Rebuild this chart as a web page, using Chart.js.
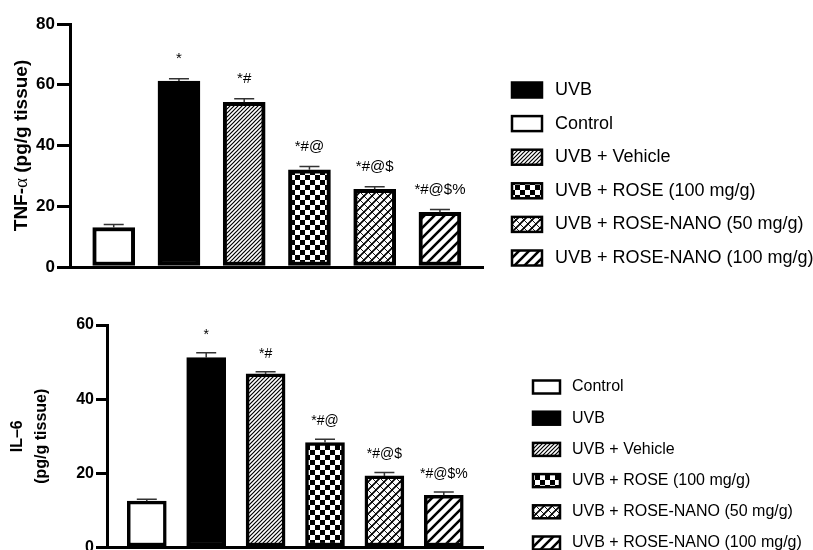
<!DOCTYPE html>
<html>
<head>
<meta charset="utf-8">
<script src="https://cdn.jsdelivr.net/npm/chart.js@4.4.1/dist/chart.umd.min.js"></script>
<style>
  body { margin: 0; background: #fff; }
  canvas { display: block; }
</style>
</head>
<body>
<canvas id="tnfChart" width="813" height="290"></canvas>
<canvas id="il6Chart" width="813" height="260"></canvas>
<script>
const groups = [
  'Control',
  'UVB',
  'UVB + Vehicle',
  'UVB + ROSE (100 mg/g)',
  'UVB + ROSE-NANO (50 mg/g)',
  'UVB + ROSE-NANO (100 mg/g)'
];
const fills = ['white', 'black', 'fineHatch', 'checker', 'weave', 'wideHatch'];
const marks = ['', '*', '*#', '*#@', '*#@$', '*#@$%'];

const tnfMean = [13, 61.2, 54.2, 32, 25.6, 18];
const tnfErr = [1, 0.8, 1.2, 1.1, 0.8, 0.9];
const tnfLegendOrder = [1, 0, 2, 3, 4, 5];

const il6Mean = [12.5, 51.2, 46.8, 28.3, 19.3, 14.1];
const il6Err = [0.5, 1.3, 0.6, 0.9, 0.9, 0.9];
const il6LegendOrder = [0, 1, 2, 3, 4, 5];

const FONT = '"Liberation Sans", Arial, sans-serif';

// little tiles for the bar fills
function hatch(c, s, w, back) {
  c.lineWidth = w;
  c.beginPath();
  if (back) {
    c.moveTo(0, 0); c.lineTo(s, s);
    c.moveTo(-s / 2, s / 2); c.lineTo(s / 2, s * 1.5);
    c.moveTo(s / 2, -s / 2); c.lineTo(s * 1.5, s / 2);
  } else {
    c.moveTo(0, s); c.lineTo(s, 0);
    c.moveTo(-s / 2, s / 2); c.lineTo(s / 2, -s / 2);
    c.moveTo(s / 2, s * 1.5); c.lineTo(s * 1.5, s / 2);
  }
  c.stroke();
}

function makeFill(kind) {
  if (kind === 'white') return '#ffffff';
  if (kind === 'black') return '#000000';
  const size = { fineHatch: 4, checker: 10, weave: 8, wideHatch: 10 }[kind];
  const tile = document.createElement('canvas');
  tile.width = size;
  tile.height = size;
  const c = tile.getContext('2d');
  c.fillStyle = '#fff';
  c.fillRect(0, 0, size, size);
  c.fillStyle = '#000';
  c.strokeStyle = '#000';
  if (kind === 'fineHatch') hatch(c, size, 1.2);
  if (kind === 'checker') {
    c.fillRect(0, 0, size / 2, size / 2);
    c.fillRect(size / 2, size / 2, size / 2, size / 2);
  }
  if (kind === 'weave') {
    hatch(c, size, 1.6);
    hatch(c, size, 0.9, true);
  }
  if (kind === 'wideHatch') hatch(c, size, 2.6);
  return c.createPattern(tile, 'repeat');
}

const fillStyles = fills.map(makeFill);

const errorBars = {
  id: 'errorBars',
  afterDatasetsDraw(chart, args, opts) {
    const ds = chart.data.datasets[0];
    const meta = chart.getDatasetMeta(0);
    const ys = chart.scales.y;
    const ctx = chart.ctx;
    ctx.save();
    ctx.strokeStyle = '#333';
    ctx.lineWidth = 1.5;
    ctx.fillStyle = '#000';
    ctx.font = opts.markSize + 'px ' + FONT;
    ctx.textAlign = 'center';
    ctx.textBaseline = 'middle';
    meta.data.forEach((bar, i) => {
      const v = ds.data[i].y;
      const top = ys.getPixelForValue(v + ds.errors[i]);
      ctx.beginPath();
      ctx.moveTo(bar.x, ys.getPixelForValue(v));
      ctx.lineTo(bar.x, top);
      ctx.moveTo(bar.x - opts.cap, top);
      ctx.lineTo(bar.x + opts.cap, top);
      ctx.stroke();
      if (ds.marks[i]) ctx.fillText(ds.marks[i], bar.x, top - opts.markGap);
    });
    ctx.restore();
  }
};

// y title, drawn by hand so weights and fonts can be mixed
const yTitle = {
  id: 'yTitle',
  afterDraw(chart, args, opts) {
    const ctx = chart.ctx;
    const area = chart.chartArea;
    const cy = (area.top + area.bottom) / 2;
    ctx.save();
    ctx.fillStyle = '#000';
    ctx.textBaseline = 'middle';
    opts.lines.forEach((parts, li) => {
      let total = 0;
      parts.forEach(p => { ctx.font = p.font; total += ctx.measureText(p.text).width; });
      ctx.save();
      ctx.translate(opts.x[li], cy);
      ctx.rotate(-Math.PI / 2);
      let pos = -total / 2;
      ctx.textAlign = 'left';
      parts.forEach(p => {
        ctx.font = p.font;
        ctx.fillText(p.text, pos, 0);
        pos += ctx.measureText(p.text).width;
      });
      ctx.restore();
    });
    ctx.restore();
  }
};

const sideLegend = {
  id: 'sideLegend',
  afterDraw(chart, args, opts) {
    const ctx = chart.ctx;
    const ds = chart.data.datasets[0];
    ctx.save();
    ctx.font = opts.size + 'px ' + FONT;
    ctx.textBaseline = 'middle';
    ctx.textAlign = 'left';
    opts.order.forEach((idx, row) => {
      const cy = opts.y + row * opts.gap;
      ctx.fillStyle = ds.backgroundColor[idx];
      ctx.fillRect(opts.x, cy - opts.h / 2, opts.w, opts.h);
      ctx.strokeStyle = '#000';
      ctx.lineWidth = 2.5;
      ctx.strokeRect(opts.x, cy - opts.h / 2, opts.w, opts.h);
      ctx.fillStyle = '#000';
      ctx.fillText(groups[idx], opts.textX, cy);
    });
    ctx.restore();
  }
};

function buildChart(id, means, errs, cfg) {
  return new Chart(document.getElementById(id), {
    type: 'bar',
    data: {
      datasets: [{
        data: means.map((v, i) => ({ x: i, y: v })),
        errors: errs,
        marks: marks,
        backgroundColor: fillStyles,
        borderColor: '#000',
        borderWidth: cfg.border,
        borderSkipped: false,
        barThickness: cfg.barW
      }]
    },
    options: {
      responsive: false,
      animation: false,
      layout: { padding: { top: cfg.top, right: 330, bottom: 0, left: 0 } },
      scales: {
        x: {
          type: 'linear',
          offset: false,
          min: -0.67,
          max: 5.66,
          ticks: { display: false },
          grid: { display: false, offset: false },
          border: { display: true, color: '#000', width: 3 },
          afterFit(s) { s.height = cfg.xh; }
        },
        y: {
          min: 0,
          max: cfg.max,
          ticks: {
            stepSize: 20,
            color: '#000',
            padding: 2,
            font: { family: FONT, size: cfg.tick, weight: 'bold' }
          },
          grid: {
            drawOnChartArea: false,
            drawTicks: true,
            tickLength: cfg.tickLen,
            color: '#000',
            lineWidth: 3
          },
          border: { display: true, color: '#000', width: 3 },
          afterFit(s) {
            s.width = cfg.yw;
            s.paddingTop = 0;
            s.paddingBottom = 0;
          }
        }
      },
      plugins: {
        legend: { display: false },
        tooltip: { enabled: false },
        errorBars: { cap: 10, markSize: cfg.markSize, markGap: cfg.markGap },
        yTitle: cfg.title,
        sideLegend: cfg.legend
      }
    },
    plugins: [errorBars, yTitle, sideLegend]
  });
}

buildChart('tnfChart', tnfMean, tnfErr, {
  border: 4, barW: 42, top: 24, xh: 23, yw: 70, max: 80, tick: 17, tickLen: 13,
  markSize: 15, markGap: 20,
  title: {
    x: [22],
    lines: [[
      { text: 'TNF-', font: 'bold 19px ' + FONT },
      { text: 'α', font: '19px "Liberation Serif", "DejaVu Serif", serif' },
      { text: ' (pg/g tissue)', font: 'bold 19px ' + FONT }
    ]]
  },
  legend: { order: tnfLegendOrder, x: 512, w: 30, h: 15, textX: 555, y: 90, gap: 33.6, size: 18 }
});

buildChart('il6Chart', il6Mean, il6Err, {
  border: 3.5, barW: 39, top: 35, xh: 2.5, yw: 107, max: 60, tick: 16, tickLen: 11,
  markSize: 14, markGap: 18,
  title: {
    x: [17.5, 42],
    lines: [
      [{ text: 'IL–6', font: 'bold 16px ' + FONT }],
      [{ text: '(pg/g tissue)', font: 'bold 16px ' + FONT }]
    ]
  },
  legend: { order: il6LegendOrder, x: 533, w: 27, h: 13, textX: 572, y: 97, gap: 31.2, size: 16 }
});
</script>
</body>
</html>
